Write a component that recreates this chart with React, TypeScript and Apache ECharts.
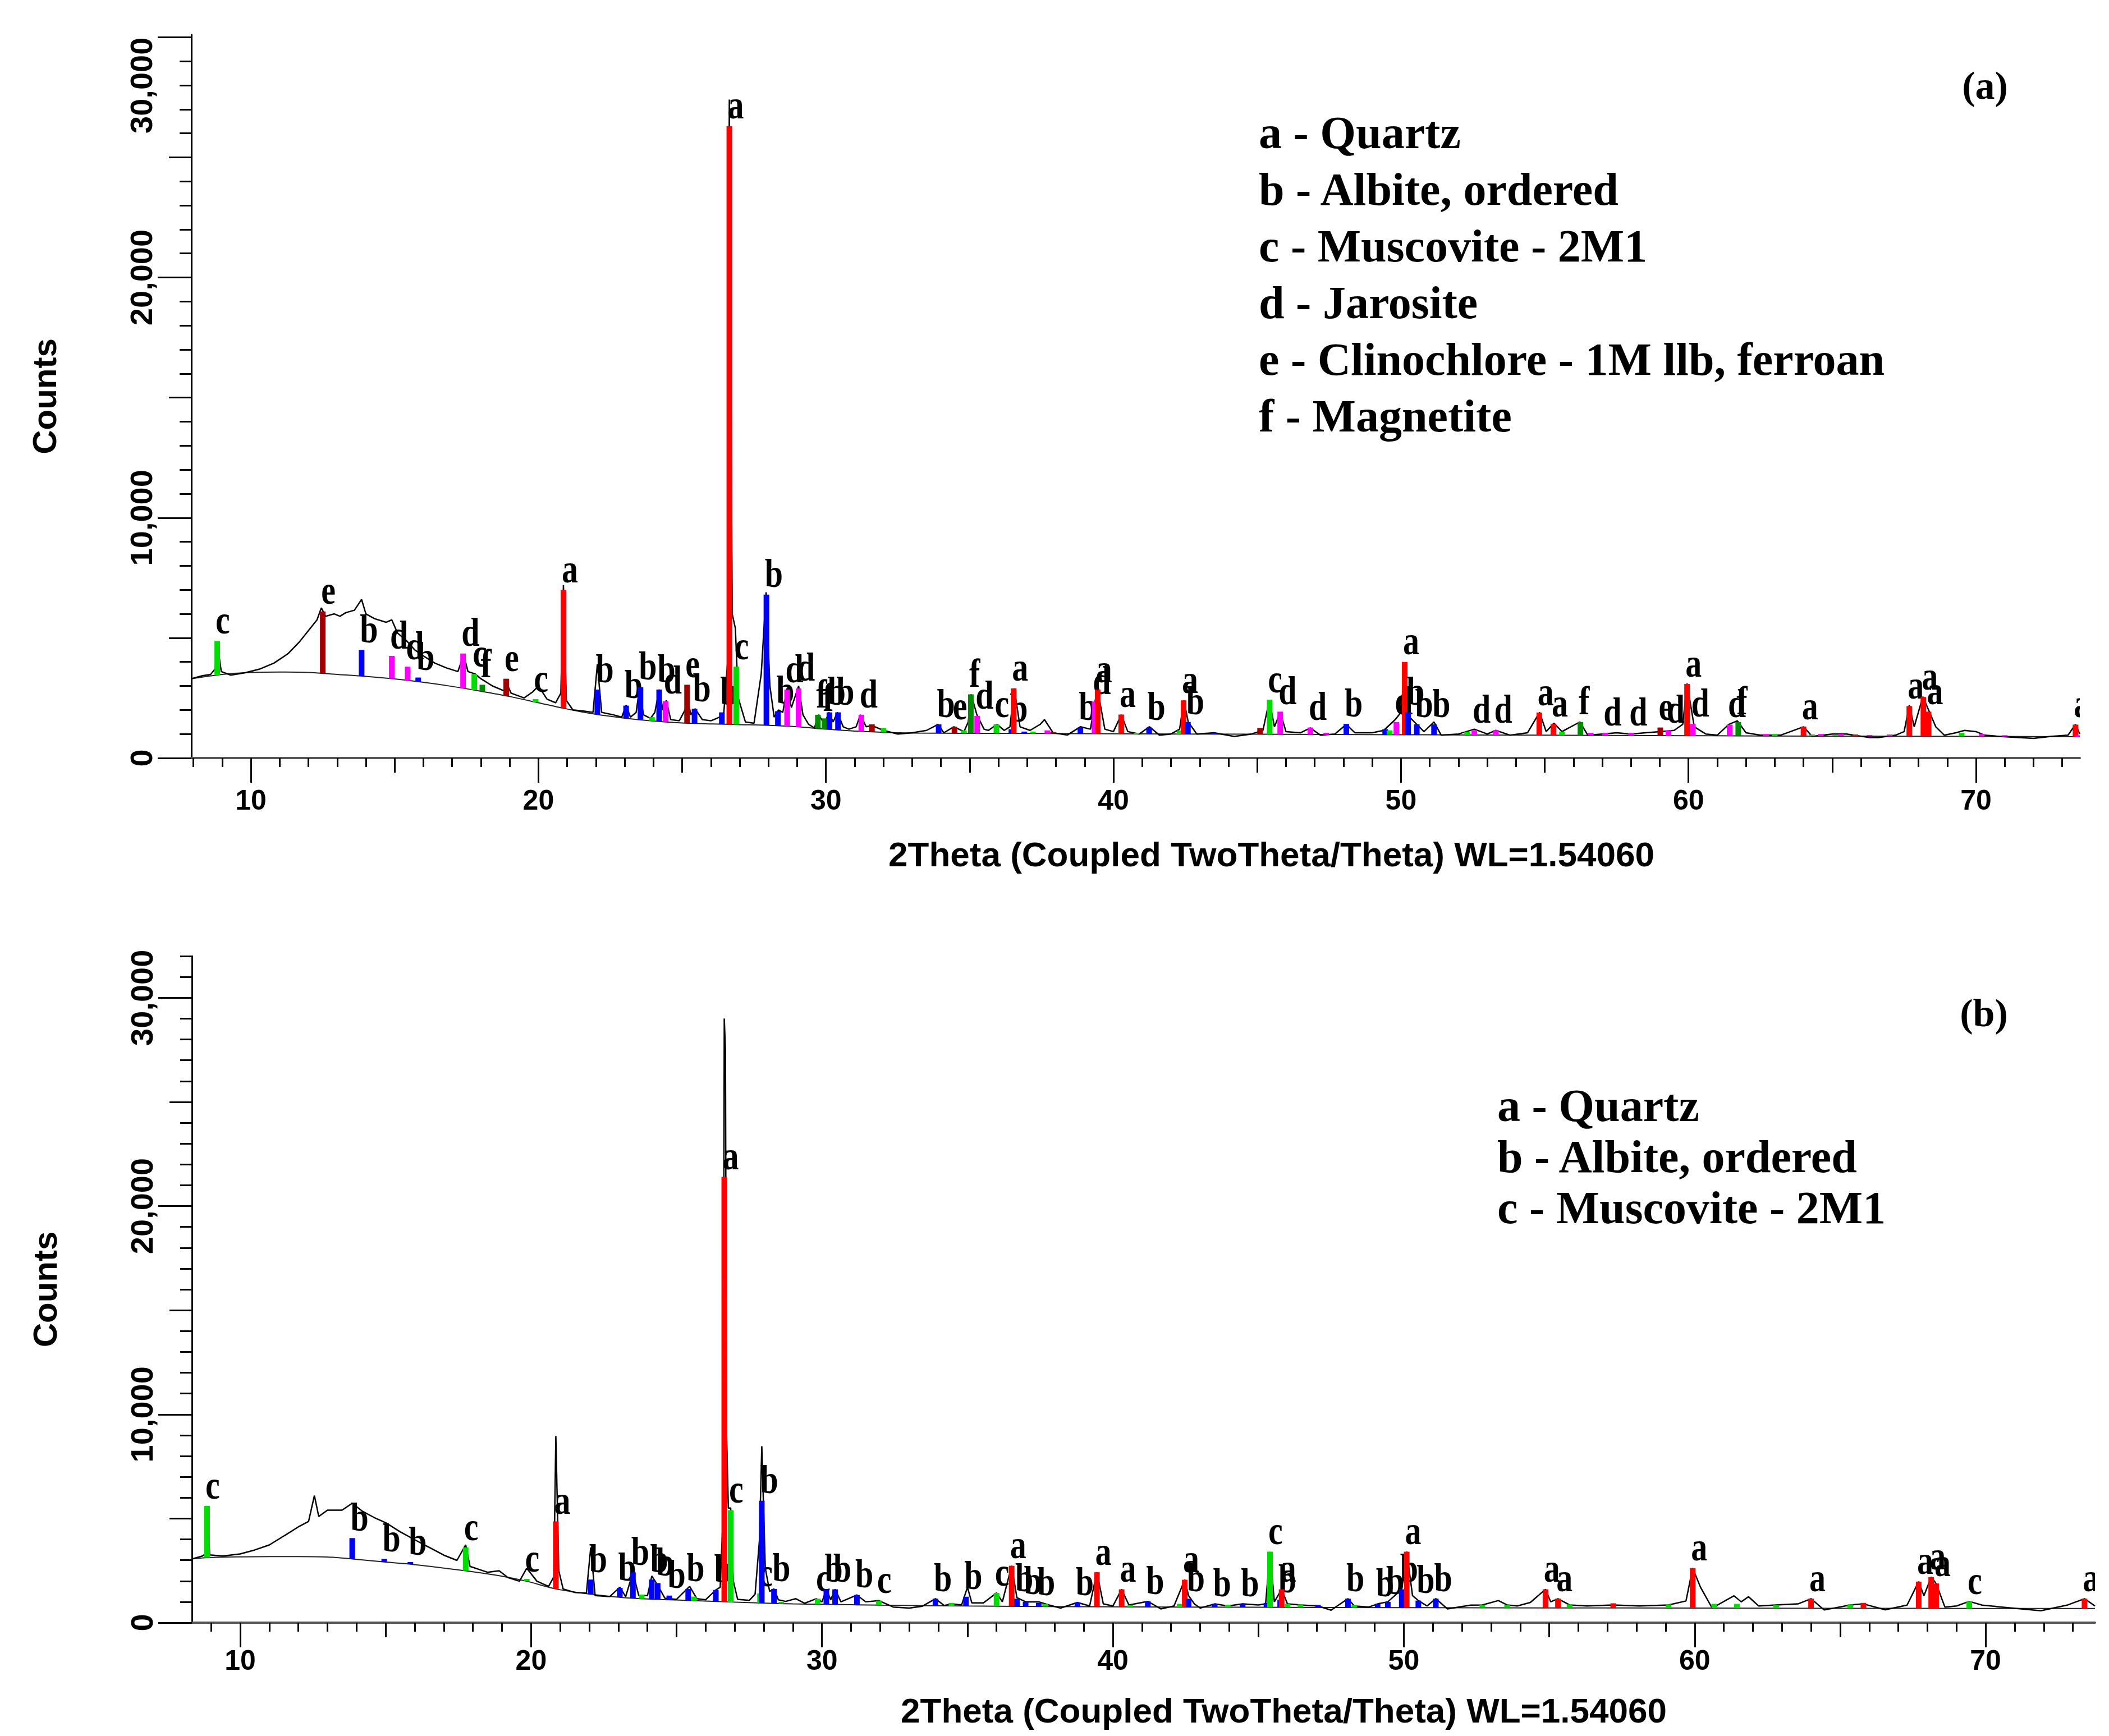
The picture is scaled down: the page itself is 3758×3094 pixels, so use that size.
import { useEffect, useRef } from 'react';
import * as echarts from 'echarts';

// 2theta / counts
const TRACE_A: [number, number][] = [
  [7.93, 3300], [8.3, 3420], [8.6, 3480], [8.75, 3700], [8.85, 4600], [8.97, 3600], [9.3, 3450], [9.8, 3550],
  [10.3, 3700], [10.8, 3950], [11.3, 4350], [11.7, 4850], [12.0, 5300], [12.3, 5750], [12.45, 6250], [12.6, 5900],
  [12.9, 6000], [13.1, 5900], [13.3, 6050], [13.6, 6150], [13.85, 6600], [14.0, 6000], [14.3, 5800], [14.7, 5650],
  [14.9, 5750], [15.1, 5200], [15.4, 4900], [15.7, 4500], [16.0, 4250], [16.4, 3950], [16.8, 3750], [17.2, 3600],
  [17.4, 4300], [17.55, 3600], [17.8, 3500], [18.0, 3300], [18.4, 3000], [18.8, 2800], [18.9, 3100], [19.05, 2700],
  [19.5, 2500], [19.8, 2750], [20.0, 3000], [20.3, 2450], [20.6, 2300], [20.78, 2700], [20.87, 7200], [20.97, 2400],
  [21.2, 2000], [21.6, 1950], [21.9, 1900], [22.05, 3900], [22.2, 1900], [22.6, 1800], [22.9, 1700], [23.05, 2200],
  [23.2, 1700], [23.4, 1900], [23.52, 2950], [23.65, 1800], [23.9, 1650], [24.05, 1900], [24.2, 2850], [24.33, 2000],
  [24.45, 2400], [24.6, 1600], [24.9, 1550], [25.1, 2000], [25.17, 2600], [25.3, 1800], [25.45, 2050], [25.7, 1600],
  [26.0, 1550], [26.3, 1700], [26.45, 1900], [26.58, 4000], [26.64, 27400], [26.69, 17000], [26.74, 6000],
  [26.85, 5400], [26.95, 2500], [27.2, 1500], [27.5, 1450], [27.75, 3500], [27.92, 6900], [28.05, 3000],
  [28.2, 1700], [28.35, 2000], [28.5, 1900], [28.65, 2900], [28.8, 2100], [29.05, 3000], [29.2, 1800], [29.4, 1400],
  [29.6, 1250], [29.75, 1800], [29.95, 1400], [30.1, 1900], [30.25, 1500], [30.4, 1900], [30.6, 1300], [30.8, 1200],
  [31.05, 1300], [31.2, 1800], [31.4, 1300], [31.6, 1350], [32.0, 1150], [32.5, 1000], [33.0, 1050], [33.5, 1150],
  [33.9, 1400], [34.1, 1050], [34.45, 1300], [34.8, 1100], [34.95, 1500], [35.05, 2650], [35.25, 1800], [35.5, 1200],
  [35.65, 1150], [35.95, 1400], [36.2, 1150], [36.4, 1300], [36.55, 2900], [36.75, 1300], [37.1, 1150], [37.45, 1400],
  [37.6, 1600], [37.9, 1050], [38.4, 960], [38.85, 1300], [39.2, 1200], [39.35, 2300], [39.45, 2850], [39.7, 1200],
  [40.0, 1100], [40.27, 1800], [40.5, 1100], [40.9, 1000], [41.25, 1300], [41.6, 950], [42.0, 1000], [42.3, 1200],
  [42.45, 2400], [42.6, 1500], [42.9, 1000], [43.5, 1050], [44.2, 900], [44.8, 1000], [45.2, 1150], [45.42, 2400],
  [45.6, 1300], [45.8, 1900], [46.0, 1100], [46.5, 1050], [46.85, 1250], [47.2, 950], [47.7, 1000], [48.1, 1400],
  [48.4, 1050], [49.0, 1050], [49.4, 1150], [49.8, 1600], [50.0, 1900], [50.13, 3800], [50.3, 1700], [50.55, 1400],
  [50.8, 1100], [51.15, 1500], [51.4, 950], [52.0, 1000], [52.55, 1200], [53.0, 1000], [53.3, 1150], [53.8, 950],
  [54.4, 1050], [54.82, 1900], [55.05, 1100], [55.32, 1450], [55.6, 1100], [56.22, 1500], [56.5, 950], [57.0, 1000],
  [57.5, 1050], [58.0, 1000], [58.5, 1050], [59.0, 1100], [59.5, 1150], [59.8, 1400], [59.95, 3100], [60.2, 1300],
  [60.6, 1000], [61.0, 950], [61.4, 1400], [61.7, 1550], [62.0, 1050], [62.5, 950], [63.2, 950], [64.0, 1300],
  [64.3, 900], [65.0, 1000], [65.5, 1000], [66.3, 850], [66.6, 850], [67.2, 950], [67.5, 1100], [67.68, 2200],
  [67.85, 1300], [68.15, 2550], [68.35, 2000], [68.6, 1300], [68.9, 950], [69.3, 1050], [69.6, 1150], [70.0, 1100],
  [70.3, 950], [70.8, 900], [71.5, 850], [72.0, 820], [72.6, 900], [73.2, 950], [73.46, 1400], [73.61, 1000],
];

const BG_A: [number, number][] = [
  [7.93, 3300], [9, 3480], [10, 3560], [11, 3580], [12, 3560], [13, 3480], [14, 3400], [15, 3290], [16, 3150],
  [17, 2980], [18, 2780], [19, 2560], [20, 2300], [21, 2040], [22, 1820], [23, 1660], [24, 1540], [25, 1460],
  [26, 1420], [27, 1390], [28, 1360], [29, 1300], [30, 1200], [31, 1120], [32, 1070], [33, 1040], [35, 1030],
  [40, 1010], [45, 990], [50, 970], [55, 950], [60, 930], [65, 910], [70, 900], [73.61, 890],
];

// [2theta, top count, phase, labelled]
const STICKS_A: [number, number, string, number][] = [
  [8.83, 4870, 'c', 1], [12.5, 6100, 'e', 1], [13.85, 4500, 'b', 1], [14.9, 4250, 'd', 1], [15.45, 3800, 'd', 1],
  [15.82, 3350, 'b', 1], [17.38, 4350, 'd', 1], [17.77, 3500, 'c', 1], [18.05, 3050, 'f', 1], [18.88, 3300, 'e', 1],
  [19.9, 2450, 'c', 1], [20.87, 7000, 'a', 1], [22.05, 2850, 'b', 1], [23.05, 2180, 'b', 1], [23.55, 2950, 'b', 1],
  [23.95, 1700, 'c', 0], [24.2, 2850, 'b', 1], [24.42, 2370, 'd', 1], [25.17, 3050, 'e', 1], [25.43, 2050, 'b', 1],
  [26.38, 1900, 'b', 1], [26.64, 26300, 'a', 1], [26.88, 3800, 'c', 1], [27.93, 6800, 'b', 1], [28.33, 1950, 'b', 1],
  [28.65, 2850, 'd', 1], [29.05, 2900, 'd', 1], [29.72, 1800, 'f', 1], [29.95, 1650, 'f', 1], [30.12, 1900, 'b', 1],
  [30.42, 1900, 'b', 1], [31.23, 1800, 'd', 1], [31.6, 1400, 'e', 0], [32.0, 1250, 'c', 0], [33.92, 1400, 'b', 1],
  [34.47, 1300, 'e', 1], [34.8, 1150, 'c', 0], [35.04, 2650, 'f', 1], [35.26, 1750, 'd', 1], [35.93, 1400, 'c', 1],
  [36.45, 1200, 'b', 1], [36.53, 2900, 'a', 1], [36.9, 1100, 'b', 0], [37.2, 1100, 'c', 0], [37.7, 1150, 'd', 0],
  [37.9, 1080, 'e', 0], [38.85, 1270, 'b', 1], [39.34, 2350, 'd', 1], [39.45, 2850, 'a', 1], [40.27, 1810, 'a', 1],
  [40.8, 1050, 'c', 0], [41.24, 1270, 'b', 1], [42.3, 1150, 'c', 0], [42.44, 2400, 'a', 1], [42.59, 1500, 'b', 1],
  [43.5, 1050, 'b', 0], [45.1, 1250, 'e', 0], [45.43, 2430, 'c', 1], [45.8, 1930, 'd', 1], [46.85, 1270, 'd', 1],
  [47.4, 1050, 'd', 0], [48.1, 1420, 'b', 1], [49.45, 1200, 'b', 0], [49.6, 1150, 'c', 0], [49.84, 1500, 'd', 1],
  [50.13, 4000, 'a', 1], [50.25, 1900, 'b', 1], [50.55, 1400, 'b', 1], [51.15, 1400, 'b', 1], [52.3, 1100, 'c', 0],
  [52.55, 1160, 'd', 1], [53.3, 1160, 'd', 1], [54.81, 1890, 'a', 1], [55.3, 1420, 'a', 1], [55.6, 1100, 'c', 0],
  [56.24, 1500, 'f', 1], [56.6, 1050, 'd', 0], [57.1, 1050, 'd', 1], [58.0, 1050, 'd', 1], [59.02, 1270, 'e', 1],
  [59.3, 1150, 'd', 1], [59.95, 3080, 'a', 1], [60.15, 1420, 'd', 1], [61.43, 1390, 'd', 1], [61.73, 1500, 'f', 1],
  [62.7, 1000, 'd', 0], [63.0, 1000, 'c', 0], [64.0, 1310, 'a', 1], [64.3, 980, 'c', 0], [64.6, 1000, 'd', 0],
  [65.1, 980, 'c', 0], [65.3, 1000, 'd', 0], [65.8, 980, 'a', 0], [66.3, 960, 'd', 0], [67.0, 980, 'd', 0],
  [67.68, 2160, 'a', 1], [68.17, 2540, 'a', 1], [68.35, 1930, 'a', 1], [69.5, 1050, 'c', 0], [70.2, 1000, 'd', 0],
  [71.0, 950, 'd', 0], [73.46, 1390, 'a', 1], [73.55, 950, 'd', 0],
];

const TRACE_B: [number, number][] = [
  [8.34, 3060], [8.7, 3200], [8.8, 3300], [8.87, 5500], [8.95, 3250], [9.4, 3200], [10.0, 3300], [10.5, 3490],
  [11.0, 3730], [11.5, 4160], [12.0, 4600], [12.35, 4860], [12.55, 6100], [12.7, 5100], [13.0, 5400], [13.5, 5400],
  [13.85, 5730], [14.2, 5350], [14.6, 5050], [15.0, 4800], [15.5, 4360], [16.0, 3980], [16.5, 3610], [17.0, 3240],
  [17.45, 2990], [17.75, 3735], [17.9, 2700], [18.5, 2420], [18.9, 2490], [19.2, 2170], [19.6, 1990], [19.85, 2615],
  [20.2, 1990], [20.6, 1740], [20.78, 2200], [20.85, 8960], [20.95, 2500], [21.1, 1620], [21.5, 1450], [21.9, 1420],
  [22.05, 3610], [22.2, 1300], [22.7, 1250], [23.05, 1700], [23.25, 1250], [23.5, 2415], [23.7, 1300], [24.0, 1300],
  [24.15, 2240], [24.35, 1800], [24.6, 1170], [25.0, 1120], [25.45, 1740], [25.7, 1150], [26.0, 1100], [26.35, 1570],
  [26.5, 1700], [26.6, 5200], [26.64, 29000], [26.68, 27500], [26.72, 9000], [26.78, 5500], [26.86, 5500],
  [26.95, 2000], [27.1, 1120], [27.5, 1070], [27.7, 1370], [27.85, 3980], [27.93, 8470], [28.05, 2615], [28.2, 1500],
  [28.35, 1620], [28.5, 1100], [28.75, 1020], [29.1, 1150], [29.4, 930], [29.8, 1150], [30.0, 1000], [30.15, 1600],
  [30.3, 1100], [30.45, 1600], [30.65, 1000], [31.2, 1330], [31.5, 1000], [31.95, 1060], [32.45, 750], [33.0, 700],
  [33.45, 790], [33.9, 1150], [34.2, 820], [34.45, 900], [34.8, 850], [35.0, 1700], [35.15, 950], [35.55, 950],
  [36.0, 1425], [36.2, 1000], [36.52, 2730], [36.7, 1200], [37.0, 1000], [37.45, 1000], [37.8, 850], [38.2, 700],
  [38.78, 970], [39.2, 800], [39.45, 2420], [39.67, 900], [40.0, 800], [40.3, 1600], [40.55, 850], [41.2, 1020],
  [41.65, 660], [42.1, 800], [42.47, 2060], [42.6, 1300], [42.8, 900], [43.0, 700], [43.5, 900], [43.95, 800],
  [44.46, 900], [45.0, 850], [45.25, 900], [45.4, 3400], [45.55, 1000], [45.8, 1600], [46.0, 900], [46.45, 850],
  [47.05, 800], [47.5, 600], [48.08, 1150], [48.3, 800], [48.8, 750], [49.1, 900], [49.45, 1000], [49.93, 1600],
  [50.1, 3410], [50.3, 1300], [50.5, 1060], [50.8, 800], [51.1, 1150], [51.5, 660], [52.3, 840], [52.7, 850],
  [53.25, 1060], [53.55, 850], [53.9, 800], [54.35, 970], [54.87, 1600], [55.05, 1000], [55.3, 1150], [55.7, 850],
  [56.3, 800], [57.2, 850], [58.1, 800], [59.1, 850], [59.7, 1040], [59.93, 2620], [60.2, 1700], [60.6, 700],
  [61.35, 1290], [61.6, 1000], [61.85, 1245], [62.2, 800], [62.8, 850], [63.55, 900], [64.0, 1150], [64.45, 610],
  [65.35, 850], [65.8, 900], [66.55, 620], [67.3, 840], [67.7, 1970], [67.88, 1290], [68.13, 2190], [68.3, 1880],
  [68.6, 750], [69.0, 800], [69.44, 1020], [69.88, 840], [70.55, 750], [71.9, 570], [72.8, 840], [73.4, 1150],
  [73.76, 800],
];

const BG_B: [number, number][] = [
  [8.34, 3060], [9, 3130], [10, 3160], [11, 3170], [12, 3170], [13, 3150], [13.85, 3060], [15, 2910], [15.85, 2810],
  [17, 2620], [17.75, 2490], [19, 2230], [19.85, 1990], [20.85, 1620], [22.05, 1370], [23.5, 1170], [25.3, 1070],
  [26.7, 1000], [27.95, 940], [29, 900], [30, 880], [32, 840], [35, 800], [40, 760], [45, 740], [50, 720], [55, 710],
  [60, 700], [65, 690], [70, 680], [73.76, 680],
];

const STICKS_B: [number, number, string, number][] = [
  [8.86, 5600, 'c', 1], [13.85, 4060, 'b', 1], [14.95, 3060, 'b', 1], [15.85, 2910, 'b', 1], [17.75, 3610, 'c', 1],
  [19.85, 2100, 'c', 1], [20.85, 4860, 'a', 1], [22.05, 2070, 'b', 1], [23.05, 1670, 'b', 1], [23.5, 2415, 'b', 1],
  [23.8, 1350, 'c', 0], [24.15, 2070, 'b', 1], [24.35, 1900, 'b', 1], [24.75, 1300, 'b', 1], [25.4, 1620, 'b', 1],
  [25.6, 1250, 'c', 0], [26.35, 1570, 'b', 1], [26.64, 21400, 'a', 1], [26.86, 5400, 'c', 1], [27.87, 1400, 'c', 1],
  [27.93, 5850, 'b', 1], [28.35, 1620, 'b', 1], [28.6, 1000, 'c', 0], [29.85, 1150, 'c', 1], [30.15, 1600, 'b', 1],
  [30.45, 1600, 'b', 1], [31.2, 1330, 'b', 1], [31.95, 1060, 'c', 1], [33.9, 1150, 'b', 1], [34.45, 950, 'c', 0],
  [34.95, 1245, 'b', 1], [36.0, 1425, 'c', 1], [36.52, 2730, 'a', 1], [36.7, 1150, 'b', 1], [37.0, 1000, 'b', 1],
  [37.45, 950, 'b', 1], [37.67, 900, 'c', 0], [38.78, 970, 'b', 1], [39.45, 2420, 'a', 1], [40.3, 1600, 'a', 1],
  [40.6, 850, 'c', 0], [41.2, 1020, 'b', 1], [42.3, 900, 'c', 0], [42.47, 2060, 'a', 1], [42.6, 1150, 'b', 1],
  [43.5, 900, 'b', 1], [43.95, 850, 'c', 0], [44.46, 900, 'b', 1], [45.28, 950, 'b', 0], [45.4, 3410, 'c', 1],
  [45.75, 1100, 'b', 1], [45.8, 1600, 'a', 1], [46.0, 900, 'c', 0], [46.45, 880, 'c', 0], [47.05, 850, 'b', 0],
  [48.08, 1150, 'b', 1], [48.3, 850, 'c', 0], [49.1, 900, 'b', 1], [49.45, 1000, 'b', 1], [49.93, 1600, 'b', 1],
  [50.1, 3410, 'a', 1], [50.5, 1060, 'b', 1], [51.1, 1150, 'b', 1], [52.7, 850, 'c', 0], [53.55, 850, 'c', 0],
  [54.87, 1600, 'a', 1], [55.3, 1150, 'a', 1], [55.7, 880, 'c', 0], [57.2, 930, 'a', 0], [59.1, 880, 'c', 0],
  [59.93, 2620, 'a', 1], [60.67, 900, 'c', 0], [61.45, 900, 'c', 0], [62.8, 850, 'c', 0], [64.0, 1150, 'a', 1],
  [65.35, 880, 'c', 0], [65.8, 950, 'a', 0], [67.7, 1970, 'a', 1], [68.13, 2190, 'a', 1], [68.3, 1880, 'a', 1],
  [69.44, 1020, 'c', 1], [73.4, 1150, 'a', 1],
];

const LEGEND_A = [
  'a - Quartz',
  'b - Albite, ordered',
  'c - Muscovite - 2M1',
  'd - Jarosite',
  'e - Clinochlore - 1M llb, ferroan',
  'f - Magnetite',
];
const LEGEND_B = ['a - Quartz', 'b - Albite, ordered', 'c - Muscovite - 2M1'];

const X_MAJOR = [10, 20, 30, 40, 50, 60, 70];
const X_MID = [15, 25, 35, 45, 55, 65];
const Y_MAJOR = [0, 10000, 20000, 30000];
const Y_MID = [5000, 15000, 25000];
const X_TITLE = '2Theta (Coupled TwoTheta/Theta) WL=1.54060';

const PHASES = ['a', 'b', 'c', 'd', 'e', 'f'];
const PHASE_COLORS = ['#ff0000', '#0000ff', '#00dd00', '#ff00ff', '#a00000', '#008c00'];

const SANS = '"Liberation Sans", Arial, sans-serif';
const SERIF = '"Liberation Serif", "Times New Roman", serif';

// minor ticks every 1 deg / 1000 counts, skipping the longer ones
const xMinor: number[] = [];
for (let t = 8; t <= 74; t++) if (t % 5 !== 0) xMinor.push(t);
const yMinor: number[] = [];
for (let t = 1000; t <= 32000; t += 1000) if (t % 5000 !== 0) yMinor.push(t);

function bgAt(bg: [number, number][], x: number) {
  for (let i = 1; i < bg.length; i++) {
    if (x <= bg[i][0]) {
      const [x0, y0] = bg[i - 1];
      const [x1, y1] = bg[i];
      return y0 + ((y1 - y0) * (x - x0)) / (x1 - x0);
    }
  }
  return bg[bg.length - 1][1];
}

function stickRows(sticks: [number, number, string, number][], bg: [number, number][]) {
  return sticks.map(([x, top, ph, show]) => [x, top, PHASES.indexOf(ph), bgAt(bg, x), show]);
}

const renderStick = (_params: any, api: any) => {
  const x = api.value(0);
  const ph = api.value(2);
  const p1 = api.coord([x, api.value(1)]);
  const p0 = api.coord([x, api.value(3)]);
  const children: any[] = [
    {
      type: 'rect',
      shape: { x: p1[0] - 5, y: p1[1], width: 10, height: Math.max(p0[1] - p1[1], 2) },
      style: { fill: PHASE_COLORS[ph] },
    },
  ];
  if (api.value(4)) {
    children.push({
      type: 'text',
      x: p1[0] - 3,
      y: p1[1] - 2,
      scaleY: 1.25,
      style: {
        text: PHASES[ph],
        font: `bold 58px ${SERIF}`,
        fill: '#000',
        align: 'left',
        verticalAlign: 'bottom',
      },
    });
  }
  return { type: 'group', children };
};

const tickLine = { color: '#000', width: 3 };

function xAxes(grid: number, min: number, max: number, labelMargin: number, nameGap: number, namePad: number) {
  const inside = (v: number[]) => v.filter((t) => t >= min && t <= max);
  const base = { type: 'value', gridIndex: grid, min, max, position: 'bottom', offset: 0, splitLine: { show: false } };
  return [
    {
      ...base,
      axisLine: { show: true, onZero: false, lineStyle: { color: '#555', width: 4 } },
      axisTick: { show: true, customValues: inside(X_MAJOR), length: 44, lineStyle: tickLine },
      axisLabel: {
        customValues: inside(X_MAJOR),
        margin: labelMargin,
        fontSize: 50,
        fontWeight: 'bold',
        fontFamily: SANS,
        color: '#000',
      },
      name: X_TITLE,
      nameLocation: 'middle',
      nameGap,
      nameTextStyle: { fontSize: 62, fontWeight: 'bold', fontFamily: SANS, color: '#000', padding: [0, 0, 0, namePad] },
    },
    {
      ...base,
      axisLine: { show: false, onZero: false },
      axisLabel: { show: false },
      axisTick: { show: true, customValues: inside(X_MID), length: 26, lineStyle: tickLine },
    },
    {
      ...base,
      axisLine: { show: false, onZero: false },
      axisLabel: { show: false },
      axisTick: { show: true, customValues: inside(xMinor), length: 16, lineStyle: tickLine },
    },
  ];
}

function yAxes(grid: number, max: number, shiftTop: boolean) {
  const inside = (v: number[]) => v.filter((t) => t <= max);
  const base = { type: 'value', gridIndex: grid, min: 0, max, position: 'left', offset: 0, splitLine: { show: false } };
  const labelFont = { fontSize: 56, fontWeight: 'bold', fontFamily: SANS, color: '#000' };
  return [
    {
      ...base,
      axisLine: { show: true, onZero: false, lineStyle: { color: '#000', width: 3 } },
      axisTick: { show: true, customValues: inside(Y_MAJOR), length: 60, lineStyle: tickLine },
      axisLabel: {
        customValues: inside(Y_MAJOR),
        rotate: 90,
        margin: 62,
        ...labelFont,
        formatter: (v: number) => {
          const s = v.toLocaleString('en-US');
          return shiftTop && v === 30000 ? `{s|${s}}` : s;
        },
        rich: { s: { ...labelFont, padding: [0, 172, 0, 0] } },
      },
      name: 'Counts',
      nameLocation: 'middle',
      nameGap: 232,
      nameTextStyle: { fontSize: 60, fontWeight: 'bold', fontFamily: SANS, color: '#000' },
    },
    {
      ...base,
      axisLine: { show: false, onZero: false },
      axisLabel: { show: false },
      axisTick: { show: true, customValues: inside(Y_MID), length: 40, lineStyle: tickLine },
    },
    {
      ...base,
      axisLine: { show: false, onZero: false },
      axisLabel: { show: false },
      axisTick: { show: true, customValues: inside(yMinor), length: 21, lineStyle: tickLine },
    },
  ];
}

function panelSeries(axisIndex: number, trace: [number, number][], bg: [number, number][], sticks: any[]) {
  return [
    {
      type: 'line',
      xAxisIndex: axisIndex,
      yAxisIndex: axisIndex,
      data: bg,
      smooth: 0.3,
      showSymbol: false,
      lineStyle: { color: '#222', width: 2 },
      z: 2,
    },
    {
      type: 'line',
      xAxisIndex: axisIndex,
      yAxisIndex: axisIndex,
      data: trace,
      showSymbol: false,
      lineStyle: { color: '#000', width: 2.5 },
      z: 3,
    },
    {
      type: 'custom',
      xAxisIndex: axisIndex,
      yAxisIndex: axisIndex,
      data: sticks,
      renderItem: renderStick,
      clip: true,
      z: 4,
    },
  ];
}

function legendTexts(lines: string[], x: number, y0: number, step: number) {
  return lines.map((text, i) => ({
    type: 'text',
    x,
    y: y0 + i * step,
    style: { text, font: `bold 82px ${SERIF}`, fill: '#000', align: 'left', verticalAlign: 'middle' },
  }));
}

export default function App() {
  const ref = useRef<HTMLDivElement>(null);

  useEffect(() => {
    if (!ref.current) return;
    const chart = echarts.init(ref.current, undefined, { renderer: 'svg' });

    const option = {
      animation: false,
      grid: [
        { left: 341, top: 62, width: 3365, height: 1289 },
        { left: 342, top: 1704, width: 3391, height: 1188 },
      ],
      xAxis: [...xAxes(0, 7.93, 73.61, 50, 140, 484), ...xAxes(1, 8.34, 73.76, 42, 125, 500)],
      yAxis: [...yAxes(0, 30100, true), ...yAxes(1, 32000, false)],
      series: [
        ...panelSeries(0, TRACE_A, BG_A, stickRows(STICKS_A, BG_A)),
        ...panelSeries(3, TRACE_B, BG_B, stickRows(STICKS_B, BG_B)),
      ],
      graphic: [
        ...legendTexts(LEGEND_A, 2243, 236, 101),
        ...legendTexts(LEGEND_B, 2668, 1970, 91),
        {
          type: 'text',
          x: 3537,
          y: 152,
          style: { text: '(a)', font: `bold 70px ${SERIF}`, fill: '#000', align: 'center', verticalAlign: 'middle' },
        },
        {
          type: 'text',
          x: 3535,
          y: 1805,
          style: { text: '(b)', font: `bold 70px ${SERIF}`, fill: '#000', align: 'center', verticalAlign: 'middle' },
        },
      ],
    };

    chart.setOption(option as any);
    return () => chart.dispose();
  }, []);

  return <div ref={ref} style={{ position: 'absolute', left: 0, top: 0, width: 3758, height: 3094 }} />;
}
